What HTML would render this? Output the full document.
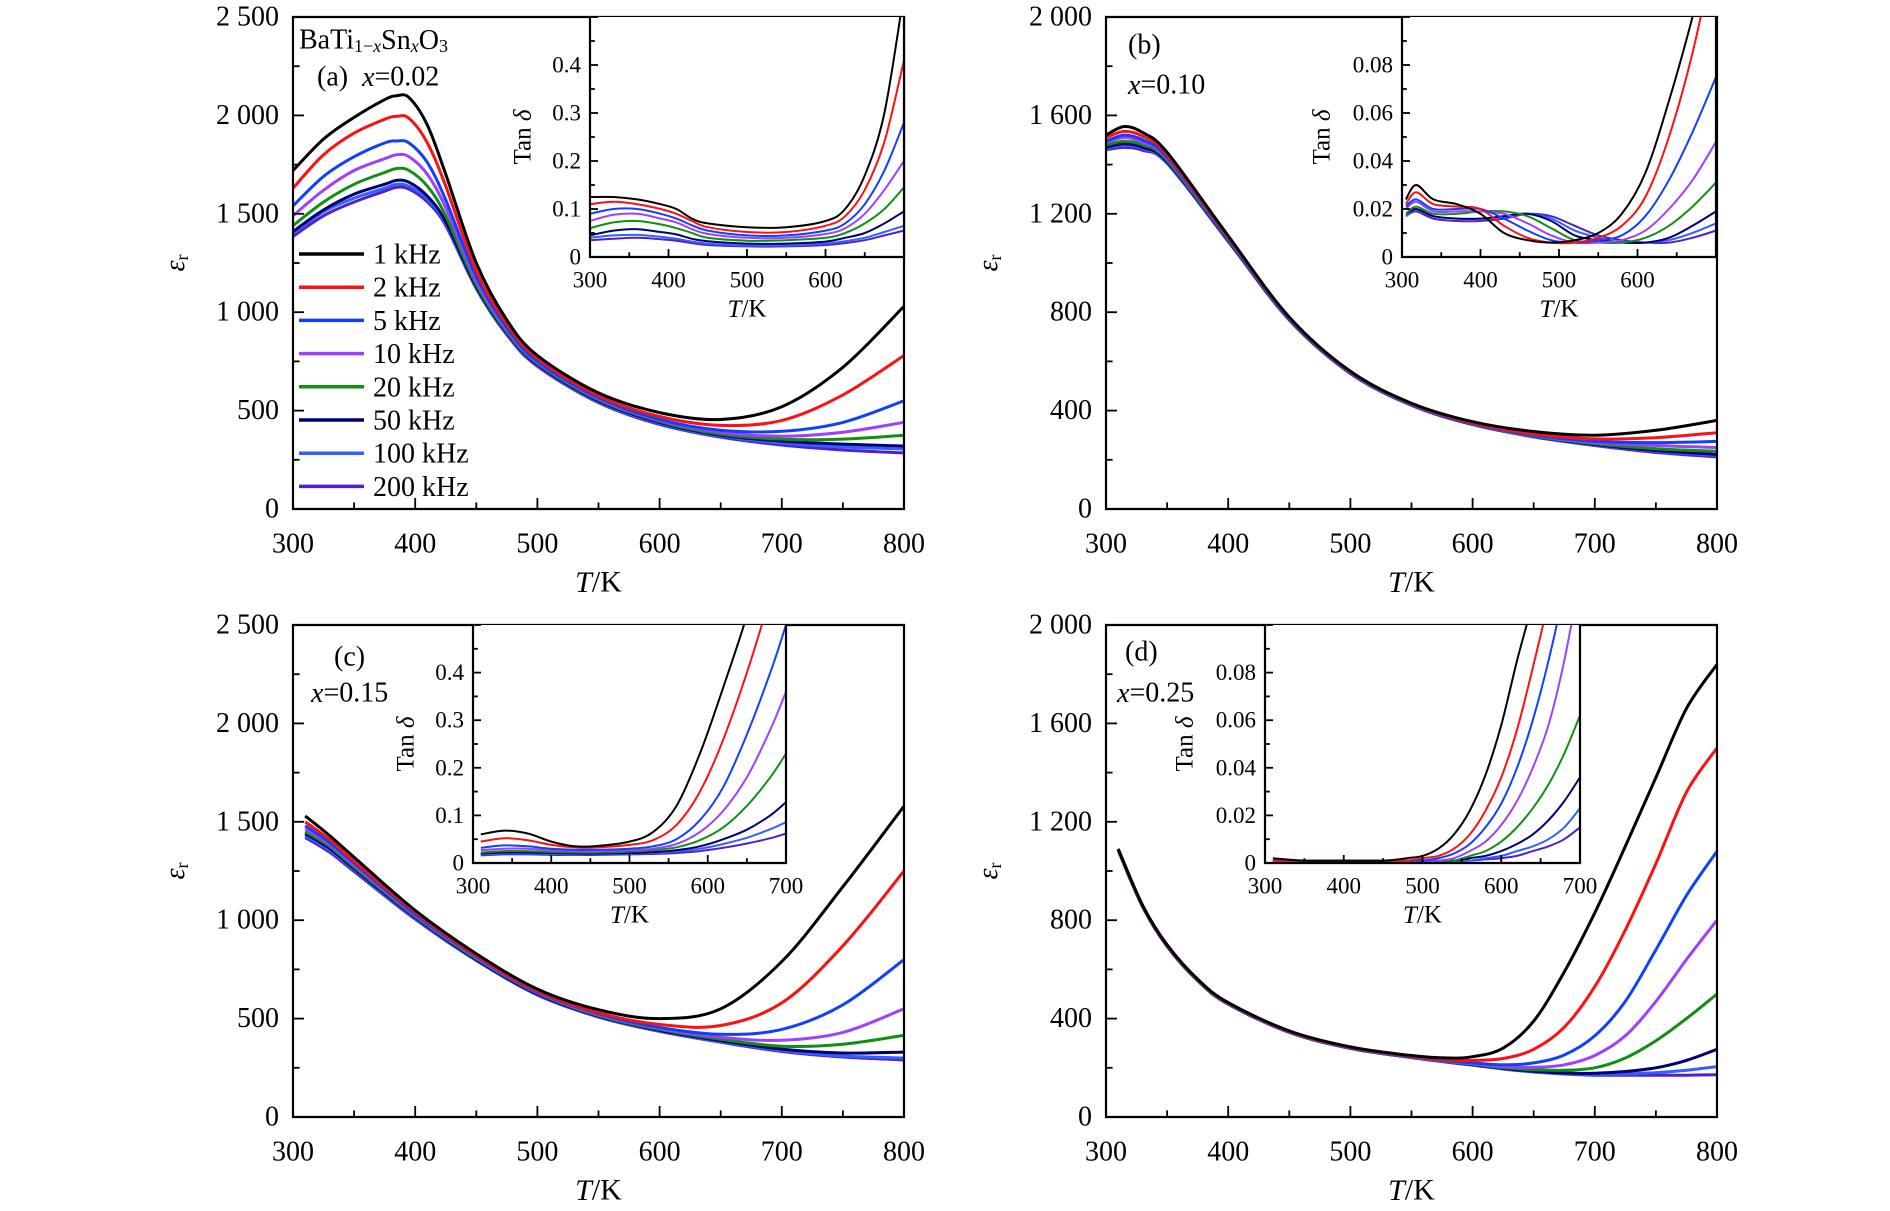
<!DOCTYPE html>
<html><head><meta charset="utf-8"><style>
html,body{margin:0;padding:0;background:#fff;}
svg, svg text{font-family:"Liberation Serif","Times New Roman",serif;}
</style></head><body>
<svg id="fig" width="1890" height="1206" viewBox="0 0 1890 1206" xmlns="http://www.w3.org/2000/svg" font-family="Liberation Serif, serif"></svg>
<script>
// ---------- DATA ----------
const freqLabels = ["1 kHz","2 kHz","5 kHz","10 kHz","20 kHz","50 kHz","100 kHz","200 kHz"];
const seriesColors = ["#000000","#ff1010","#1040ff","#a040ff","#109010","#000070","#3060ff","#5020d0"];

const aT = [300,325,350,375,385,395,410,425,450,475,500,550,600,650,700,750,800];
const aEps = [
 [1720,1880,1990,2080,2100,2090,1950,1700,1250,960,780,590,490,455,520,720,1030],
 [1630,1800,1910,1980,1995,1985,1860,1640,1210,940,765,575,470,425,450,580,780],
 [1540,1690,1790,1860,1870,1860,1760,1570,1180,920,750,565,455,400,395,440,550],
 [1490,1620,1720,1780,1800,1790,1700,1530,1160,910,745,560,450,390,370,390,440],
 [1440,1560,1650,1710,1730,1720,1640,1490,1140,900,740,555,445,380,355,355,375],
 [1410,1520,1600,1650,1670,1660,1590,1460,1130,895,735,550,440,375,345,330,320],
 [1400,1510,1580,1630,1650,1640,1575,1450,1125,890,730,545,435,370,335,315,305],
 [1385,1490,1560,1615,1635,1625,1560,1440,1120,885,725,540,430,365,325,300,285]];
const aInT = [300,330,360,390,410,430,450,500,550,600,625,650,675,700];
const aTan = [
 [.125,.125,.12,.11,.1,.08,.07,.062,.062,.075,.1,.17,.3,.55],
 [.11,.115,.11,.1,.09,.075,.062,.052,.052,.065,.085,.14,.24,.41],
 [.09,.1,.1,.09,.08,.066,.055,.045,.045,.055,.07,.11,.18,.28],
 [.075,.088,.09,.08,.072,.058,.048,.04,.04,.048,.06,.09,.14,.2],
 [.06,.072,.075,.068,.06,.05,.04,.034,.035,.04,.05,.07,.1,.145],
 [.045,.055,.058,.052,.047,.038,.033,.028,.028,.032,.04,.05,.07,.095],
 [.04,.045,.046,.042,.038,.032,.028,.024,.024,.028,.033,.04,.052,.065],
 [.035,.038,.04,.037,.034,.029,.025,.022,.022,.025,.029,.035,.045,.055]];

const bT = [300,315,330,350,400,450,500,550,600,650,700,750,800];
const bEps = [
 [1520,1555,1530,1450,1110,780,560,430,355,315,300,320,360],
 [1510,1535,1515,1440,1105,778,558,428,350,305,285,290,310],
 [1495,1520,1500,1430,1100,775,556,426,348,300,275,270,275],
 [1490,1510,1490,1425,1098,773,555,425,347,298,270,258,250],
 [1480,1495,1480,1418,1095,772,554,424,346,296,265,245,235],
 [1470,1485,1470,1412,1092,770,553,423,345,295,262,238,222],
 [1465,1478,1465,1408,1090,769,552,422,344,294,260,235,218],
 [1460,1470,1458,1405,1088,768,551,421,343,293,258,230,212]];
const bInT = [305,318,340,370,400,430,460,490,520,550,580,610,640,670,700];
const bTan = [
 [.024,.03,.024,.022,.018,.01,.007,.006,.007,.01,.018,.035,.065,.1,.14],
 [.022,.027,.022,.021,.02,.013,.008,.006,.006,.008,.013,.025,.05,.085,.13],
 [.021,.024,.02,.02,.02,.016,.011,.007,.006,.007,.009,.017,.032,.052,.075],
 [.02,.023,.019,.019,.019,.018,.014,.009,.006,.006,.007,.011,.02,.032,.048],
 [.018,.021,.018,.018,.019,.019,.017,.012,.007,.006,.006,.008,.013,.021,.031],
 [.018,.02,.017,.016,.016,.017,.018,.015,.009,.007,.006,.006,.008,.013,.019],
 [.017,.02,.017,.016,.016,.017,.018,.016,.011,.008,.006,.006,.007,.01,.014],
 [.017,.019,.016,.015,.015,.016,.018,.017,.013,.009,.007,.006,.006,.008,.011]];

const cT = [310,330,350,400,450,500,550,600,650,700,750,800];
const cEps = [
 [1530,1430,1320,1050,830,650,545,500,550,790,1170,1580],
 [1500,1410,1300,1040,820,640,530,470,465,580,870,1250],
 [1480,1395,1290,1030,815,635,525,455,420,445,570,800],
 [1465,1385,1280,1025,810,632,520,450,405,390,430,550],
 [1450,1375,1270,1020,805,630,515,445,395,360,370,415],
 [1440,1365,1262,1015,800,625,512,440,388,345,325,330],
 [1430,1355,1255,1010,798,622,510,437,383,338,310,300],
 [1420,1345,1248,1005,795,620,508,435,380,333,305,290]];
const cInT = [310,340,370,400,430,460,500,530,560,590,620,650,680,700];
const cTan = [
 [.06,.068,.062,.045,.035,.036,.045,.065,.12,.23,.37,.52,.7,.8],
 [.045,.052,.048,.038,.033,.033,.038,.048,.08,.15,.26,.4,.56,.68],
 [.032,.037,.035,.03,.028,.028,.03,.035,.05,.09,.16,.27,.4,.5],
 [.027,.03,.03,.027,.025,.025,.027,.03,.04,.065,.11,.18,.28,.36],
 [.022,.025,.025,.023,.022,.022,.024,.027,.033,.048,.075,.12,.18,.23],
 [.02,.022,.022,.021,.02,.02,.021,.023,.027,.035,.05,.07,.1,.128],
 [.018,.02,.02,.019,.019,.019,.02,.021,.024,.03,.04,.053,.071,.086],
 [.016,.018,.018,.017,.017,.017,.018,.019,.021,.025,.032,.041,.052,.062]];

const dT = [310,330,350,375,400,450,500,550,580,600,625,650,675,700,725,750,775,800];
const dEps = [
 [1090,860,700,560,465,350,285,250,240,245,280,390,590,830,1100,1380,1660,1840],
 [1088,858,698,558,463,348,283,247,232,230,238,275,365,530,760,1030,1320,1500],
 [1087,857,697,557,462,347,282,245,228,220,212,220,252,330,470,680,900,1080],
 [1086,856,696,556,461,346,281,244,226,217,205,202,212,250,330,470,640,800],
 [1085,855,695,555,460,345,280,243,225,215,200,192,190,200,240,310,400,500],
 [1084,854,694,554,459,344,279,242,224,213,197,186,179,178,185,200,230,275],
 [1084,854,694,554,459,344,279,242,223,212,196,184,176,173,175,180,190,205],
 [1084,854,694,554,459,344,279,242,222,211,195,183,175,170,170,170,170,172]];
const dInT = [310,350,400,450,480,500,520,540,560,580,600,620,640,660,680,700];
const dTan = [
 [.002,.001,.001,.001,.002,.003,.006,.012,.022,.037,.058,.085,.11,.14,.17,.2],
 [.001,.001,.001,.001,.001,.002,.003,.006,.012,.022,.036,.056,.082,.11,.14,.17],
 [.001,.001,.001,.001,.001,.001,.002,.004,.008,.015,.025,.04,.06,.085,.115,.15],
 [.001,.001,.001,.001,.001,.001,.001,.002,.005,.009,.016,.026,.04,.058,.085,.12],
 [.001,.001,.001,.001,.001,.001,.001,.001,.003,.005,.009,.015,.023,.033,.046,.062],
 [.001,.001,.001,.001,.001,.001,.001,.001,.002,.003,.005,.008,.012,.018,.026,.036],
 [.001,.001,.001,.001,.001,.001,.001,.001,.001,.002,.003,.005,.007,.01,.015,.023],
 [.001,.001,.001,.001,.001,.001,.001,.001,.001,.0015,.002,.003,.005,.007,.01,.015]];

const mainYTicksA = ["0","500","1 000","1 500","2 000","2 500"];
const mainYTicksB = ["0","400","800","1 200","1 600","2 000"];
const xTickLabels = ["300","400","500","600","700","800"];
const inXTicks4 = ["300","400","500","600"];
const inXTicks5 = ["300","400","500","600","700"];
const inYTicksBig = ["0","0.1","0.2","0.3","0.4"];
const inYTicksSmall = ["0","0.02","0.04","0.06","0.08"];

// ---------- DRAWING ----------
const NS="http://www.w3.org/2000/svg";
const svg=document.getElementById('fig');
const FF='"Liberation Serif", serif';
function mk(tag,attrs,parent){const e=document.createElementNS(NS,tag);for(const k in attrs)e.setAttribute(k,attrs[k]);(parent||svg).appendChild(e);return e;}
function txt(s,x,y,size,anchor,parent){const t=mk('text',{x:x,y:y,'font-size':size,'font-family':FF,'text-anchor':anchor||'middle','dominant-baseline':'central',fill:'#000'},parent);t.textContent=s;return t;}
function pathD(pts){let d='M'+pts[0][0].toFixed(1)+','+pts[0][1].toFixed(1);
 for(let i=0;i<pts.length-1;i++){const p0=pts[Math.max(0,i-1)],p1=pts[i],p2=pts[i+1],p3=pts[Math.min(pts.length-1,i+2)];
  const c1=[p1[0]+(p2[0]-p0[0])/6,p1[1]+(p2[1]-p0[1])/6],c2=[p2[0]-(p3[0]-p1[0])/6,p2[1]-(p3[1]-p1[1])/6];
  d+=' C'+c1[0].toFixed(1)+','+c1[1].toFixed(1)+' '+c2[0].toFixed(1)+','+c2[1].toFixed(1)+' '+p2[0].toFixed(1)+','+p2[1].toFixed(1);}
 return d;}
let clipId=0;
function plot(o){
 const g=mk('g',{});
 
 
 const sx=v=>o.x0+(v-o.xmin)/(o.xmax-o.xmin)*(o.x1-o.x0);
 const sy=v=>o.y1-(v-o.ymin)/(o.ymax-o.ymin)*(o.y1-o.y0);
 if(o.bg){mk('rect',{x:o.x0,y:o.y0,width:o.x1-o.x0,height:o.y1-o.y0,fill:'#fff'},g);}
 const cid='clip'+(clipId++);
 const cp=mk('clipPath',{id:cid},g);mk('rect',{x:o.x0,y:o.y0,width:o.x1-o.x0,height:o.y1-o.y0},cp);
 const lg=mk('g',{'clip-path':'url(#'+cid+')'},g);
 for(let s=o.series.length-1;s>=0;s--){
  const pts=o.T.map((t,i)=>[sx(t),sy(o.series[s][i])]);
  const p=mk('path',{d:pathD(pts),fill:'none',stroke:seriesColors[s],'stroke-width':o.lw,'stroke-linejoin':'round'},lg);
  
  
 }
 mk('path',{d:o.frame(o),fill:'none',stroke:'#000','stroke-width':2.2},g);
 const tl=o.tickLen;
 for(let v=o.xmin;v<=o.xmax+1e-9;v+=o.xMinor){const X=sx(v);const major=Math.abs(((v-o.xmin)/o.xMajor)-Math.round((v-o.xmin)/o.xMajor))<1e-6;
  mk('line',{x1:X,y1:o.y1,x2:X,y2:o.y1-(major?tl:tl*0.6),stroke:'#000','stroke-width':1.8},g);}
 for(let v=o.ymin;v<=o.ymax+1e-9;v+=o.yMinor){const Y=sy(v);const major=Math.abs((v/o.yMajor)-Math.round(v/o.yMajor))<1e-6;
  mk('line',{x1:o.x0,y1:Y,x2:o.x0+(major?tl:tl*0.6),y2:Y,stroke:'#000','stroke-width':1.8},g);}
 const xl=mk('g',{},g);
 o.xLabels.forEach((s,i)=>txt(s,sx(o.xmin+i*o.xMajor),o.y1+o.xLabOff,o.fs,'middle',xl));
 const yl=mk('g',{},g);
 o.yLabels.forEach((s,i)=>txt(s,o.x0-o.yLabOff,sy(o.ymin+i*o.yMajor),o.fs,'end',yl));
 const xt=mk('text',{x:(o.x0+o.x1)/2,y:o.y1+o.xTitleOff,'font-size':o.fs+2,'font-family':FF,'text-anchor':'middle','dominant-baseline':'central'},g);
 xt.innerHTML='<tspan font-style="italic">T</tspan>/K';
 
 const yt=mk('text',{x:o.yTitleX,y:(o.y0+o.y1)/2,'font-size':o.yTitleFs,'font-family':FF,'text-anchor':'middle','dominant-baseline':'central',transform:'rotate(-90 '+o.yTitleX+' '+(o.y0+o.y1)/2+')'},g);
 yt.innerHTML=o.yTitle;
 
 return g;
}
const boxFrame=o=>`M${o.x0},${o.y0}H${o.x1}V${o.y1}H${o.x0}Z`;
const insetFrame=o=>`M${o.x0},${o.y0}V${o.y1}H${o.x1}V${o.y0}`;
const epsTitle='<tspan font-style="italic">ε</tspan><tspan font-size="18" dy="7">r</tspan>';
const tanTitle='Tan <tspan font-style="italic">δ</tspan>';

function mainPanel(name,x0,y0,T,S,ymax,yMajor,ylabs){
 return plot({name:name,x0:x0,x1:x0+611,y0:y0,y1:y0+492,xmin:300,xmax:800,ymin:0,ymax:ymax,xMajor:100,xMinor:50,yMajor:yMajor,yMinor:yMajor/2,
  T:T,series:S,lw:3,frame:boxFrame,tickLen:11,xLabels:xTickLabels,yLabels:ylabs,fs:28,xLabOff:35,yLabOff:14,xTitleOff:73,yTitleX:x0-118,yTitle:epsTitle,yTitleFs:28});
}
function inset(name,x0,x1,y0,y1,T,S,ymax,yMajor,ylabs,xlabs){
 return plot({name:name,x0:x0,x1:x1,y0:y0,y1:y1,xmin:300,xmax:700,ymin:0,ymax:ymax,xMajor:100,xMinor:50,yMajor:yMajor,yMinor:yMajor/2,
  T:T,series:S,lw:2,frame:insetFrame,tickLen:8,bg:true,xLabels:xlabs,yLabels:ylabs,fs:23,xLabOff:23,yLabOff:9,xTitleOff:52,yTitleX:x0-(ymax<0.2?80:67),yTitle:tanTitle,yTitleFs:25});
}
mainPanel('panel-a',293,17,aT,aEps,2500,500,mainYTicksA);
inset('inset-a',590,904,17,257,aInT,aTan,0.5,0.1,inYTicksBig,inXTicks4);
mainPanel('panel-b',1106,17,bT,bEps,2000,400,mainYTicksB);
inset('inset-b',1402,1716,17,257,bInT,bTan,0.1,0.02,inYTicksSmall,inXTicks4);
mainPanel('panel-c',293,625,cT,cEps,2500,500,mainYTicksA);
inset('inset-c',473,786,625,863,cInT,cTan,0.5,0.1,inYTicksBig,inXTicks5);
mainPanel('panel-d',1106,625,dT,dEps,2000,400,mainYTicksB);
inset('inset-d',1265,1580,625,863,dInT,dTan,0.1,0.02,inYTicksSmall,inXTicks5);

// legend
const leg=mk('g',{});


freqLabels.forEach((f,i)=>{
 const y=254+i*33.2;
 const e=mk('g',{},leg);
 
 
 mk('line',{x1:299,x2:364,y1:y,y2:y,stroke:seriesColors[i],'stroke-width':3.5},e);
 txt(f,373,y+1,28,'start',e);
});
// annotations
function ann(html,x,y,size,name){const t=mk('text',{x:x,y:y,'font-size':size,'font-family':FF,'text-anchor':'start','dominant-baseline':'central'});t.innerHTML=html;}
ann('BaTi<tspan font-size="18" dy="6">1−<tspan font-style="italic">x</tspan></tspan><tspan dy="-6">Sn</tspan><tspan font-size="18" dy="6" font-style="italic">x</tspan><tspan dy="-6">O</tspan><tspan font-size="18" dy="6">3</tspan>',299,40,28,'compound-label');
ann('(a)&#160;&#160;<tspan font-style="italic">x</tspan>=0.02',317,77,28,'panel-a-label');
ann('(b)',1128,45,28,'panel-b-label');
ann('<tspan font-style="italic">x</tspan>=0.10',1128,85,28,'panel-b-composition');
ann('(c)',334,657,28,'panel-c-label');
ann('<tspan font-style="italic">x</tspan>=0.15',311,693,28,'panel-c-composition');
ann('(d)',1125,652,28,'panel-d-label');
ann('<tspan font-style="italic">x</tspan>=0.25',1117,693,28,'panel-d-composition');
</script>
</body></html>
